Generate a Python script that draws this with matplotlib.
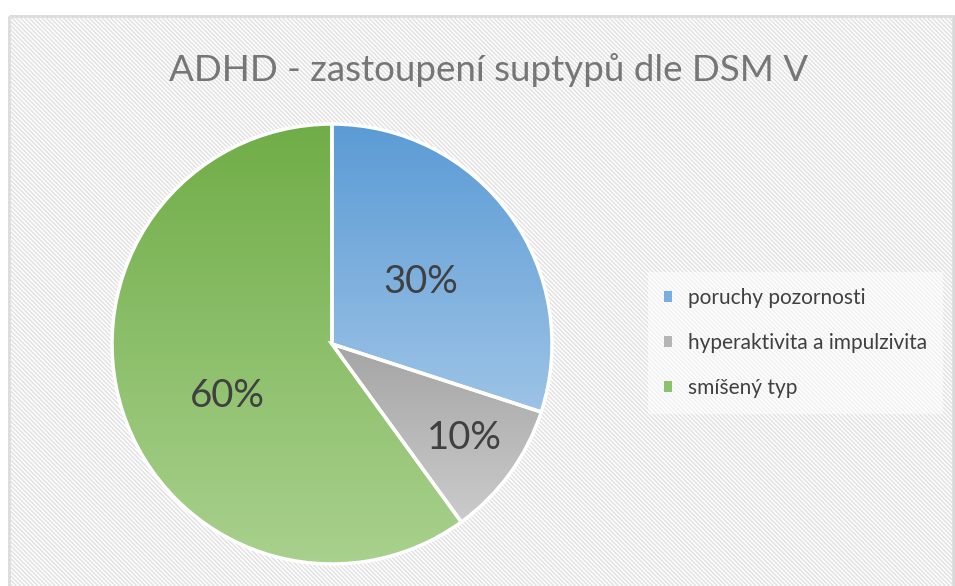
import matplotlib
matplotlib.use("Agg")
import matplotlib.pyplot as plt
import numpy as np
from matplotlib.patches import Rectangle
from matplotlib.collections import LineCollection
from matplotlib.colors import LinearSegmentedColormap

categories = ["poruchy pozornosti", "hyperaktivita a impulzivita", "smíšený typ"]
values = [30, 10, 60]
labels = ["30%", "10%", "60%"]
title = "ADHD - zastoupení suptypů dle DSM V"
top_colors = ["#5B9BD5", "#A5A5A5", "#70AD47"]
bottom_colors = ["#9DC3E6", "#CBCBCB", "#A9D18E"]
legend_colors = ["#7AAEE0", "#B5B5B5", "#8CC26C"]

W, H = 955, 586
fig = plt.figure(figsize=(W / 100, H / 100), dpi=100)
fig.patch.set_facecolor("white")

# background axes in pixel coordinates (y down)
bgax = fig.add_axes([0, 0, 1, 1], zorder=-5)
bgax.set_xlim(0, W)
bgax.set_ylim(H, 0)
bgax.axis("off")
x0, y0, x1, y1 = 9, 16, 953, 590
frame = Rectangle((x0, y0), x1 - x0, y1 - y0, facecolor="white",
                  edgecolor="none")
bgax.add_patch(frame)
period = 4.3
segs = []
c = x0 - y1 - 10
while c < x1 - y0 + 10:
    segs.append([(c + y0 - 5, y0 - 5), (c + y1 + 5, y1 + 5)])
    c += period
lc = LineCollection(segs, colors="#E2E2E2", linewidths=1.1)
bgax.add_collection(lc)
lc.set_clip_path(frame)
bgax.add_patch(Rectangle((x0, y0), x1 - x0, y1 - y0, facecolor="none",
                         edgecolor="#D9D9D9", linewidth=2.0))

fig.text(489 / W, 1 - 70 / H, title, ha="center", va="center",
         fontsize=26.5, color="#767676", family="Lato")

ax = fig.add_axes([112 / W, 22 / H, 440 / W, 440 / H], zorder=1)
ax.set_xlim(-1, 1)
ax.set_ylim(-1, 1)
ax.set_aspect("equal")
ax.axis("off")

wedges, _ = ax.pie(values, startangle=90, counterclock=False, radius=1,
                   colors=top_colors,
                   wedgeprops=dict(edgecolor="white", linewidth=2.5))

for w, c1, c2 in zip(wedges, top_colors, bottom_colors):
    verts = w.get_path().vertices
    ymin, ymax = verts[:, 1].min(), verts[:, 1].max()
    xmin, xmax = verts[:, 0].min(), verts[:, 0].max()
    cmap = LinearSegmentedColormap.from_list("g", [c1, c2])
    grad = np.linspace(0, 1, 256).reshape(-1, 1)
    im = ax.imshow(grad, cmap=cmap, extent=(xmin, xmax, ymin, ymax),
                   aspect="auto", zorder=1, origin="upper",
                   interpolation="bilinear")
    im.set_clip_path(w)
    w.set_facecolor("none")
    w.set_zorder(2)

ax.set_xlim(-1, 1)
ax.set_ylim(-1, 1)

label_pos = [(421, 282), (464, 438), (227, 396)]
cx, cy, r = 332, 344, 220
for (px, py), lab in zip(label_pos, labels):
    ax.text((px - cx) / r, (cy - py) / r, lab, ha="center", va="center",
            fontsize=27.5, color="#404040", family="Lato", zorder=3)

handles = [Rectangle((0, 0), 1, 1, facecolor=c, edgecolor="none") for c in legend_colors]
leg = fig.legend(handles, categories, loc="center left",
                 bbox_to_anchor=(648 / W, 1 - 343 / H),
                 frameon=True, handlelength=0.42, handleheight=0.42,
                 handletextpad=0.75, labelspacing=1.2, borderpad=0.75,
                 borderaxespad=0.0,
                 prop={"family": "Lato", "size": 15}, labelcolor="#404040")
leg.get_frame().set_facecolor("white")
leg.get_frame().set_alpha(0.5)
leg.get_frame().set_edgecolor("none")
leg.get_frame().set_boxstyle("square", pad=0)

fig.savefig("out.png", dpi=100)
